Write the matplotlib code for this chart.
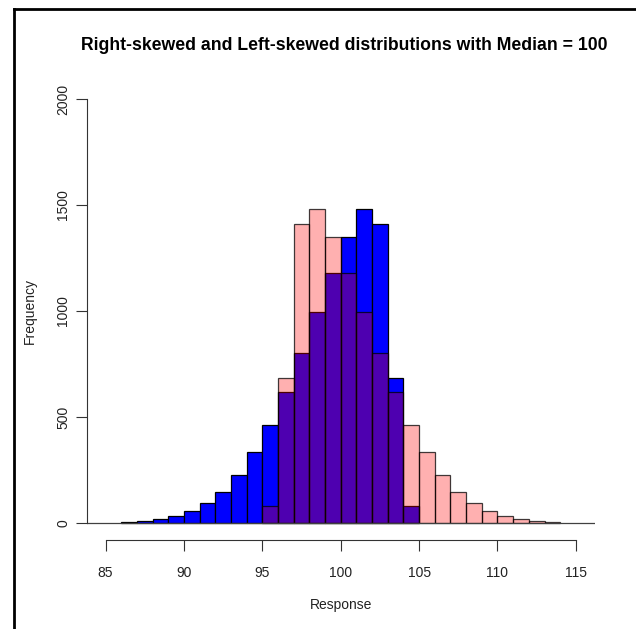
import matplotlib
matplotlib.use('Agg')
import matplotlib.pyplot as plt
from matplotlib.lines import Line2D

plt.rcParams['font.family'] = ['Liberation Sans', 'DejaVu Sans']

# left-skewed sample (blue), bin starts 86..104, width 1
blue_bins = [86, 87, 88, 89, 90, 91, 92, 93, 94, 95, 96, 97, 98, 99, 100, 101, 102, 103, 104]
blue_counts = [5, 9, 17, 35, 57, 96, 148, 228, 333, 463, 619, 800, 993, 1178, 1349, 1481, 1409, 682, 79]
# right-skewed sample (pink), bin starts 95..113
pink_bins = [95, 96, 97, 98, 99, 100, 101, 102, 103, 104, 105, 106, 107, 108, 109, 110, 111, 112, 113]
pink_counts = [79, 682, 1409, 1481, 1349, 1178, 993, 800, 619, 463, 333, 228, 148, 96, 57, 35, 17, 9, 5]

x_ticks = [85, 90, 95, 100, 105, 110, 115]
y_ticks = [0, 500, 1000, 1500, 2000]

fig = plt.figure(figsize=(6.36, 6.29), dpi=100)
ax = fig.add_axes([86.7/636, 1-540/629, (594.7-86.7)/636, (540-82)/629])

ax.bar(blue_bins, blue_counts, width=1, align='edge', color='#0000ff',
       edgecolor='black', linewidth=0.9)
ax.bar(pink_bins, pink_counts, width=1, align='edge', facecolor=(1, 0, 0, 0.31),
       edgecolor=(0, 0, 0, 0.75), linewidth=0.9)
ax.axhline(0, color='#404040', linewidth=0.9)

ax.set_xlim(83.8, 116.2)
ax.set_ylim(-80, 2080)
for s in ['top', 'right']:
    ax.spines[s].set_visible(False)
ax.spines['left'].set_bounds(0, 2000)
ax.spines['bottom'].set_bounds(85, 115)
for s in ['left', 'bottom']:
    ax.spines[s].set_color('#333333')
    ax.spines[s].set_linewidth(0.8)

ax.set_xticks(x_ticks)
ax.set_yticks(y_ticks)
ax.set_yticklabels([str(v) for v in y_ticks], rotation=90, va='center')
ax.tick_params(length=8, width=0.8, color='#333333', labelcolor='#222222',
               labelsize=10)
ax.tick_params(axis='x', pad=11)
ax.tick_params(axis='y', pad=4)

ax.set_xlabel('Response', fontsize=10, color='#222222', labelpad=13)
ax.set_ylabel('Frequency', fontsize=10, color='#222222', labelpad=14)
fig.text(344/636, 1-46/629, 'Right-skewed and Left-skewed distributions with Median = 100',
         ha='center', va='center', fontsize=12.7, fontweight='bold')

# screenshot frame on the left and top
fig.add_artist(Line2D([14/636, 14/636], [0, 1-9/629], color='black', linewidth=2,
                      transform=fig.transFigure))
fig.add_artist(Line2D([14/636, 1], [1-9/629, 1-9/629], color='black', linewidth=2,
                      transform=fig.transFigure))

fig.savefig('out.png', dpi=100)
